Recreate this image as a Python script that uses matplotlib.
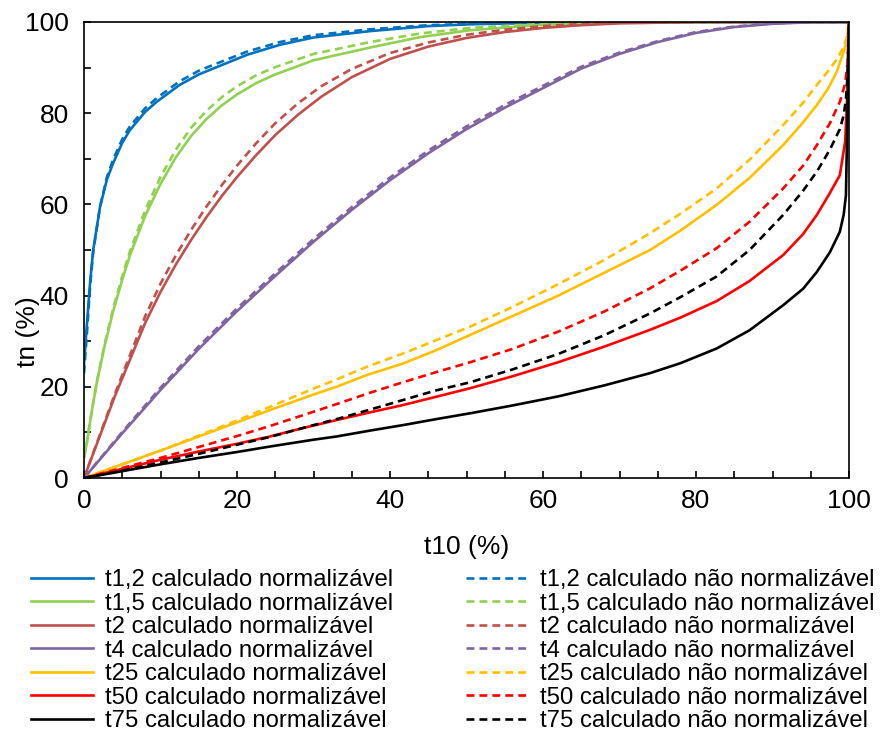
import matplotlib
matplotlib.use("Agg")
import matplotlib.pyplot as plt
from matplotlib.ticker import MultipleLocator

plt.rcParams['font.family'] = ['Liberation Sans', 'DejaVu Sans']

# t1,2
x_t12 = [0, 0.35, 0.8, 1.2, 2.1, 3, 3.8, 5, 6, 8, 9.5, 12.5, 15, 16.9, 21.3, 25.6, 30, 37.4, 45, 50.5, 60, 70, 80, 100]
y_t12_n = [25, 33, 43, 50, 59.5, 65.5, 69, 73.5, 76.3, 80.3, 82.5, 86.2, 88.5, 89.8, 92.8, 95.0, 96.6, 98.0, 99.1, 99.5, 99.85, 100, 100, 100]
y_t12_nn = [23, 31, 42, 49.5, 59.5, 66, 69.8, 74.3, 77.1, 81.1, 83.3, 87.0, 89.3, 90.6, 93.5, 95.6, 97.1, 98.4, 99.3, 99.6, 99.9, 100, 100, 100]

# t1,5
x_t15 = [0, 0.35, 1, 1.66, 2.7, 3.8, 5, 6, 8, 10, 12, 14, 16, 18, 20, 22.5, 25, 30, 37.4, 44, 50.5, 60, 70, 80, 100]
y_t15_n = [4.5, 7.5, 14.5, 20.8, 29, 36.5, 43.5, 48.8, 57.5, 64.5, 70.3, 75, 78.7, 81.7, 84.1, 86.6, 88.5, 91.6, 94.4, 96.7, 98.2, 99.4, 99.85, 100, 100]
y_t15_nn = [4.5, 7.5, 14.5, 21, 29.4, 37.1, 44.3, 49.7, 58.7, 66.0, 72.0, 76.8, 80.5, 83.5, 85.9, 88.3, 90.1, 93.0, 95.6, 97.5, 98.7, 99.6, 99.9, 100, 100]

# t2
x_t2 = [0, 4, 8, 10, 12, 14, 16, 18, 20, 22.5, 25, 28, 31, 35, 40, 45, 50, 55, 60, 65, 70, 80, 100]
y_t2_n = [0, 17.8, 34, 40.8, 46.8, 52.2, 57.2, 61.8, 66, 70.8, 75.2, 79.7, 83.6, 87.9, 91.9, 94.6, 96.5, 97.8, 98.7, 99.3, 99.7, 100, 100]
y_t2_nn = [0, 18.3, 35.5, 42.6, 48.8, 54.4, 59.5, 64.2, 68.5, 73.4, 77.8, 82.2, 85.9, 89.7, 93.2, 95.5, 97.2, 98.3, 99.1, 99.6, 99.85, 100, 100]

# t4
x_t4 = [0, 5, 10, 15, 20, 25, 30, 35, 40, 45, 50, 55, 60, 65, 70, 75, 80, 85, 90, 95, 100]
y_t4_n = [0, 9.8, 19.3, 28.3, 36.6, 44.3, 51.8, 58.8, 65.3, 71.2, 76.5, 81.2, 85.5, 89.8, 93.0, 95.6, 97.6, 98.9, 99.6, 99.95, 100]
y_t4_nn = [0, 10.1, 19.8, 28.9, 37.2, 44.9, 52.4, 59.4, 65.9, 71.8, 77.1, 81.8, 86.0, 90.2, 93.3, 95.8, 97.8, 99.0, 99.7, 100, 100]

# t25
x_t25 = [0, 5, 10, 15, 20, 24.3, 30, 33, 37, 41.7, 46, 50.5, 56, 62, 68, 74, 78, 82.7, 87, 91.4, 94, 95.8, 97.3, 98.4, 99.2, 99.7, 100]
y_t25_n = [0, 3, 6, 9.1, 12.2, 14.9, 18.3, 20, 22.6, 25.1, 28, 31.4, 35.5, 40, 45, 50, 54.3, 59.9, 65.8, 73, 78, 81.8, 85.5, 89.1, 93, 95.7, 100]
y_t25_nn = [0, 3, 6, 9.3, 12.6, 15.6, 19.6, 21.6, 24.4, 27.3, 30.2, 33.2, 37.5, 42.5, 47.8, 53.7, 58.0, 63.5, 69.8, 77.4, 82.3, 86.2, 89.3, 91.8, 94.2, 96.5, 100]

# t50
x_t50 = [0, 5, 10, 15, 20, 24.3, 28.5, 33, 37.4, 41.7, 46, 50.5, 56, 62, 68, 74, 78, 82.7, 87, 91.4, 94, 95.8, 97.5, 98.8, 99.5, 99.8, 100]
y_t50_n = [0, 2, 4, 5.8, 7.5, 9.1, 10.9, 12.7, 14.4, 16, 17.8, 19.7, 22.3, 25.4, 28.8, 32.5, 35.2, 38.8, 43.2, 48.9, 53.5, 57.7, 62.5, 66.4, 73.8, 85, 100]
y_t50_nn = [0, 2.2, 4.4, 6.8, 9.2, 11.4, 13.7, 16.2, 18.7, 21.0, 23.2, 25.4, 28.3, 32.1, 36.5, 41.6, 45.5, 50.4, 56.2, 63.5, 68.5, 73, 77.8, 82.5, 86.5, 91, 100]

# t75
x_t75 = [0, 5, 10, 15, 20, 24.3, 30, 33, 37.4, 41.7, 46, 50.5, 56, 62, 68, 74, 78, 82.7, 87, 91.4, 94, 95.8, 97.5, 98.8, 99.3, 99.6, 99.8, 100]
y_t75_n = [0, 1.5, 3, 4.4, 5.7, 6.9, 8.4, 9.1, 10.4, 11.6, 12.9, 14.2, 15.9, 17.9, 20.3, 23, 25.2, 28.4, 32.4, 37.9, 41.5, 45.2, 49.5, 54, 57.7, 62, 80, 100]
y_t75_nn = [0, 1.6, 3.4, 5.3, 7.3, 9.0, 11.6, 12.9, 15.0, 17.1, 19.2, 21, 23.8, 27.2, 31.3, 36.1, 39.7, 44.2, 50, 57.7, 63, 67.2, 72, 76.5, 79.5, 83, 88, 100]

series = [
    ('t1,2', x_t12, y_t12_n, y_t12_nn, '#0070C0'),
    ('t1,5', x_t15, y_t15_n, y_t15_nn, '#92D050'),
    ('t2', x_t2, y_t2_n, y_t2_nn, '#C0504D'),
    ('t4', x_t4, y_t4_n, y_t4_nn, '#8064A2'),
    ('t25', x_t25, y_t25_n, y_t25_nn, '#FFC000'),
    ('t50', x_t50, y_t50_n, y_t50_nn, '#FF0000'),
    ('t75', x_t75, y_t75_n, y_t75_nn, '#000000'),
]

fig = plt.figure(figsize=(8.82, 7.33), dpi=100)
ax = fig.add_axes([84/882, 1-478/733, 765/882, 456/733])

solid_handles = []
dashed_handles = []
for name, x, yn, ynn, col in series:
    h1, = ax.plot(x, yn, color=col, lw=1.9, solid_joinstyle='round',
                  label=name + ' calculado normalizável')
    h2, = ax.plot(x, ynn, color=col, lw=1.9, dashes=(3.0, 1.9),
                  label=name + ' calculado não normalizável')
    solid_handles.append(h1)
    dashed_handles.append(h2)

ax.set_xlim(0, 100)
ax.set_ylim(0, 100)
ax.xaxis.set_major_locator(MultipleLocator(20))
ax.xaxis.set_minor_locator(MultipleLocator(5))
ax.yaxis.set_major_locator(MultipleLocator(20))
ax.yaxis.set_minor_locator(MultipleLocator(10))
ax.tick_params(which='both', direction='in', length=5, width=1.2, labelsize=19)
ax.tick_params(axis='x', pad=8)
ax.tick_params(axis='y', pad=11)
for s in ax.spines.values():
    s.set_linewidth(1.2)

ax.set_xlabel('t10 (%)', fontsize=19)
ax.set_ylabel('tn (%)', fontsize=19)
ax.xaxis.set_label_coords(0.5, -0.125)
ax.yaxis.set_label_coords(-0.058, 0.32)

leg = fig.legend(handles=solid_handles + dashed_handles, ncol=2,
                 loc='upper left', bbox_to_anchor=(31/882, 1-569/733),
                 frameon=False, borderpad=0, borderaxespad=0,
                 handlelength=2.6, handletextpad=0.5, columnspacing=3.05,
                 labelspacing=0.065, prop={'size': 17.2})

fig.savefig('out.png', dpi=100)
